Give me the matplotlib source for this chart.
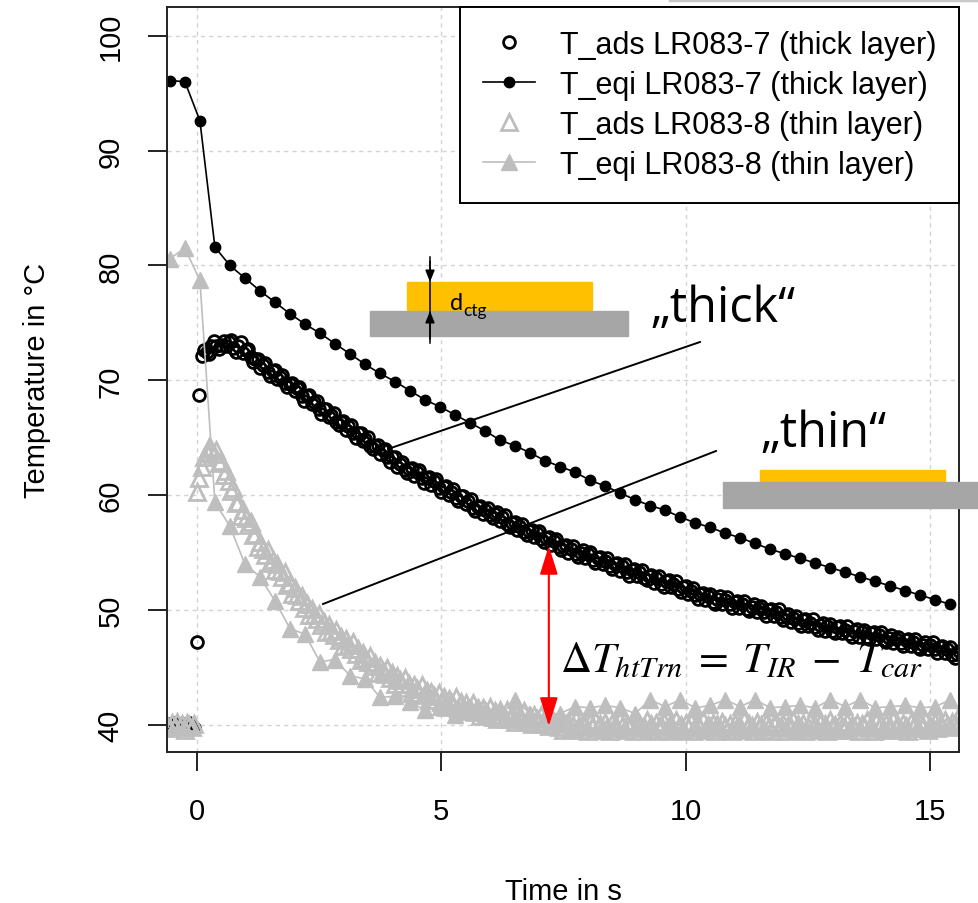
import numpy as np
import matplotlib
matplotlib.use('Agg')
import matplotlib.pyplot as plt
from matplotlib.lines import Line2D
from matplotlib.patches import Rectangle, FancyArrowPatch

plt.rcParams['font.family'] = ['Liberation Sans', 'DejaVu Sans']
plt.rcParams['mathtext.fontset'] = 'stix'

# adsorber temperatures (IR camera), one value every 0.05 s from -0.6 s
ads_thick = [
    40.1, 39.8, 40.0, 40.2, 39.9, 39.7, 40.1, 40.0, 39.8, 40.2,
    39.9, 39.7, 47.2, 68.7, 72.1, 72.6,
    72.5, 72.3, 73.0, 73.4, 73.0, 72.7, 73.1, 73.4, 73.0, 73.3,
    73.5, 72.8, 72.5, 73.0, 73.3, 72.4, 72.6, 72.7, 72.0, 71.6,
    71.9, 71.9, 71.1, 71.3, 71.5, 70.7, 70.4, 70.8, 70.9, 70.1,
    70.3, 70.5, 69.8, 69.4, 69.7, 69.8, 69.1, 69.3, 69.4, 68.6,
    68.2, 68.6, 68.7, 67.9, 68.1, 68.2, 67.5, 67.1, 67.5, 67.5,
    66.8, 67.0, 67.2, 66.4, 66.1, 66.4, 66.5, 65.7, 66.0, 66.1,
    65.4, 65.0, 65.4, 65.4, 64.7, 64.9, 65.1, 64.3, 64.0, 64.3,
    64.4, 63.6, 63.9, 64.0, 63.3, 62.9, 63.3, 63.3, 62.5, 62.7,
    62.9, 62.2, 61.9, 62.3, 62.4, 61.7, 62.0, 62.2, 61.5, 61.1,
    61.5, 61.6, 60.9, 61.2, 61.4, 60.6, 60.3, 60.7, 60.8, 60.0,
    60.3, 60.5, 59.8, 59.5, 59.9, 59.9, 59.2, 59.5, 59.7, 58.9,
    58.6, 59.0, 59.1, 58.4, 58.7, 58.9, 58.3, 58.0, 58.4, 58.5,
    57.8, 58.1, 58.3, 57.5, 57.2, 57.6, 57.7, 57.0, 57.3, 57.5,
    56.8, 56.5, 56.9, 57.0, 56.4, 56.7, 56.9, 56.2, 55.9, 56.3,
    56.4, 55.7, 56.0, 56.2, 55.5, 55.2, 55.6, 55.7, 55.0, 55.3,
    55.6, 54.9, 54.6, 55.0, 55.2, 54.5, 54.9, 55.1, 54.4, 54.1,
    54.5, 54.6, 54.0, 54.3, 54.5, 53.8, 53.6, 54.0, 54.1, 53.4,
    53.8, 54.0, 53.3, 53.0, 53.5, 53.6, 53.0, 53.3, 53.5, 52.8,
    52.6, 53.0, 53.1, 52.4, 52.8, 53.0, 52.3, 52.0, 52.5, 52.6,
    52.0, 52.3, 52.5, 51.8, 51.6, 52.0, 52.1, 51.4, 51.7, 51.9,
    51.3, 51.0, 51.4, 51.5, 50.9, 51.2, 51.4, 50.7, 50.5, 51.0,
    51.2, 50.5, 50.9, 51.1, 50.5, 50.2, 50.7, 50.8, 50.2, 50.5,
    50.8, 50.1, 49.9, 50.3, 50.5, 49.8, 50.2, 50.4, 49.8, 49.5,
    50.0, 50.1, 49.5, 49.8, 50.1, 49.4, 49.1, 49.5, 49.7, 49.0,
    49.3, 49.5, 48.9, 48.6, 49.1, 49.2, 48.6, 48.9, 49.2, 48.5,
    48.3, 48.7, 48.9, 48.2, 48.6, 48.8, 48.2, 48.0, 48.5, 48.6,
    48.0, 48.3, 48.6, 47.9, 47.7, 48.2, 48.4, 47.7, 48.1, 48.3,
    47.7, 47.5, 48.0, 48.1, 47.5, 47.8, 48.1, 47.4, 47.2, 47.6,
    47.8, 47.1, 47.5, 47.7, 47.1, 46.9, 47.4, 47.5, 46.9, 47.2,
    47.5, 46.8, 46.6, 47.0, 47.2, 46.6, 47.0, 47.2, 46.6, 46.3,
    46.8, 46.9, 46.3, 46.6, 46.8, 46.1, 45.8, 46.2, 46.4]

ads_thin = [
    40.0, 39.7, 40.2, 39.9, 40.3, 39.8, 40.1, 39.6, 40.2, 40.0,
    39.8, 40.1, 60.3, 61.5, 62.5, 63.3, 63.8, 64.2, 64.0, 63.6,
    63.9, 62.8, 63.0, 61.8, 62.1, 61.2, 60.4, 60.6, 59.3, 59.4,
    58.2, 58.7, 58.0, 57.4, 57.7, 56.5, 56.6, 55.5, 55.9, 55.3,
    54.8, 55.2, 54.1, 54.4, 53.5, 54.0, 53.4, 52.9, 53.3, 52.2,
    52.4, 51.4, 51.9, 51.3, 50.8, 51.2, 50.2, 50.5, 49.6, 50.1,
    49.6, 49.2, 49.7, 48.7, 49.0, 48.1, 48.7, 48.2, 47.8, 48.3,
    47.4, 47.7, 46.9, 47.5, 47.0, 46.6, 47.2, 46.2, 46.6, 45.7,
    46.3, 45.8, 45.5, 46.0, 45.1, 45.4, 44.5, 45.1, 44.7, 44.4,
    45.0, 44.1, 44.5, 43.6, 44.3, 43.9, 43.6, 44.1, 43.2, 43.6,
    42.8, 43.5, 43.1, 42.8, 43.5, 42.6, 43.0, 42.2, 42.9, 42.5,
    42.2, 42.8, 42.0, 42.4, 41.6, 42.3, 42.0, 41.7, 42.4, 41.5,
    42.0, 41.2, 41.9, 41.5, 41.3, 41.9, 41.1, 41.5, 40.8, 41.5,
    41.2, 40.9, 41.6, 40.7, 41.2, 40.5, 41.3, 40.9, 40.7, 41.3,
    40.5, 41.0, 40.3, 41.0, 40.7, 40.5, 41.2, 40.3, 40.8, 40.1,
    40.9, 40.5, 40.3, 40.9, 40.1, 40.6, 39.9, 40.6, 40.3,
    40.2, 39.8, 40.4, 39.6, 40.1, 40.3, 39.7, 40.0, 40.5, 39.8,
    39.6, 40.2, 40.0, 39.5, 40.3, 39.9, 40.4, 39.7, 40.1, 39.6,
    40.3, 39.8, 39.5, 40.2, 40.0, 39.7, 40.4, 39.9, 39.6, 40.1,
    39.8, 40.3, 39.5, 40.0, 40.2, 39.7, 39.9, 40.4, 39.6, 40.1,
    39.5, 40.2, 39.8, 40.0, 40.3, 39.6, 39.9, 40.1, 39.5, 40.4,
    39.7, 40.0, 39.6, 40.2, 39.8, 40.3, 39.5, 39.9, 40.1, 39.7,
    40.4, 39.6, 40.0, 39.8, 40.2, 39.5, 40.1, 39.7, 40.3, 39.9,
    39.6, 40.1, 39.5, 40.2, 39.8, 40.0, 39.6, 40.4, 39.7, 40.1,
    39.9, 39.5, 40.3, 39.8, 40.0, 39.6, 40.2, 39.9, 39.5, 40.1,
    40.3, 39.7, 39.9, 40.2, 39.5, 40.0, 39.8, 40.4, 39.6, 40.1,
    39.7, 40.2, 39.5, 39.9, 40.3, 39.8, 40.0, 39.6, 40.2, 39.7,
    40.1, 39.5, 40.4, 39.8, 40.0, 39.6, 40.2, 39.9, 39.7, 40.3,
    39.6, 40.0, 39.8, 40.2, 39.5, 40.1, 39.9, 40.4, 39.7, 40.0,
    39.5, 40.3, 39.8, 40.1, 39.6, 40.2, 39.9, 39.7, 40.4, 39.8,
    40.0, 39.6, 40.2, 39.9, 39.5, 40.3, 39.8, 40.1, 39.7, 40.2,
    39.9, 40.4, 39.6, 40.0, 39.8, 40.3, 39.7, 40.1, 39.9, 40.4,
    40.0, 39.8, 40.3, 40.1, 40.5, 40.2]

# equilibrium temperatures, one point every ~0.31 s
eqi_thick = [96.1, 96.0, 92.6, 81.6, 80.0, 78.9, 77.8, 76.8, 75.8, 74.9,
             74.1, 73.2, 72.3, 71.4, 70.6, 69.9, 69.1, 68.3, 67.7, 67.0,
             66.3, 65.6, 64.8, 64.3, 63.7, 63.0, 62.5, 62.0, 61.3, 60.8,
             60.2, 59.6, 59.1, 58.7, 58.1, 57.6, 57.2, 56.7, 56.3, 55.8,
             55.3, 54.9, 54.5, 54.1, 53.7, 53.3, 52.9, 52.5, 52.1, 51.7,
             51.3, 50.9, 50.5]

eqi_thin = [80.6, 81.5, 78.7, 59.4, 57.3, 54.0, 52.9, 50.8, 48.4, 47.9,
            45.5, 45.7, 44.3, 44.0, 42.4, 42.5, 42.0, 41.3, 41.6, 40.9,
            41.4, 41.0, 41.2, 42.2, 41.0, 40.8, 41.0, 41.6, 41.5, 41.7,
            41.5, 41.0, 42.2, 41.6, 42.2, 41.5, 41.7, 42.2, 41.6, 42.2,
            41.5, 41.6, 41.7, 41.5, 42.2, 41.6, 42.2, 41.5, 41.6, 41.7,
            41.5, 41.6, 42.2]

labels = ['T_ads LR083-7 (thick layer)', 'T_eqi LR083-7 (thick layer)',
          'T_ads LR083-8 (thin layer)', 'T_eqi LR083-8 (thin layer)']

t_ads_thick = np.round(-0.6 + 0.05 * np.arange(len(ads_thick)), 3)
t_ads_thin = np.round(-0.6 + 0.05 * np.arange(len(ads_thin)), 3)
t_eqi = np.round(0.37 + 0.307 * np.arange(-3, len(eqi_thick) - 3), 3)

GREY = '#BEBEBE'
W, H = 979, 904


def fx(x):
    return x / W


def fy(y):
    return 1 - y / H


fig = plt.figure(figsize=(W / 100, H / 100), dpi=100)
ax = fig.add_axes([fx(167), fy(753), (959 - 167) / W, (753 - 8) / H])

h1, = ax.plot(t_ads_thick, ads_thick, ls='none', marker='o', ms=8.5,
              mfc='none', mec='black', mew=2.0, label=labels[0])
h2, = ax.plot(t_eqi, eqi_thick, '-', color='black', lw=1.2, marker='o',
              ms=7.5, mfc='black', mec='black', label=labels[1])
h3, = ax.plot(t_ads_thin, ads_thin, ls='none', marker='^', ms=11.5,
              mfc='none', mec=GREY, mew=2.0, label=labels[2])
h4, = ax.plot(t_eqi, eqi_thin, '-', color=GREY, lw=1.2, marker='^', ms=11,
              mfc=GREY, mec=GREY, label=labels[3])

ax.set_xlim(-0.61, 15.59)
ax.set_ylim(37.65, 102.5)
ax.set_xticks([0, 5, 10, 15])
ax.set_yticks([40, 50, 60, 70, 80, 90, 100])
ax.set_axisbelow(True)
ax.grid(color='#D3D3D3', ls=(0, (3, 3)), lw=1.0)
for s in ax.spines.values():
    s.set_linewidth(1.4)
    s.set_color('#222222')
ax.tick_params(direction='out', length=13.5, width=1.4, color='#222222',
               labelsize=21)
ax.tick_params(axis='x', pad=19)
ax.tick_params(axis='y', pad=17)
for lab in ax.get_yticklabels():
    lab.set_rotation(90)
    lab.set_va('center')
ax.set_xlabel('Time in s', fontsize=21, labelpad=37)
ax.set_ylabel('Temperature in °C', fontsize=21, labelpad=33)

leg = ax.legend(handles=[h1, h2, h3, h4], loc='upper right',
                bbox_to_anchor=(1, 1), borderaxespad=0, fontsize=22,
                frameon=True, fancybox=False, edgecolor='black',
                framealpha=1, labelspacing=0.33, handlelength=1.7,
                handletextpad=0.8, borderpad=0.75)
leg.get_frame().set_linewidth(1.4)

# red delta-T arrow
ax.annotate('', xy=(7.2, 39.9), xytext=(7.2, 55.6),
            arrowprops=dict(arrowstyle='<|-|>,head_length=0.8,head_width=0.25',
                            color='red', lw=1.5, mutation_scale=22,
                            shrinkA=0, shrinkB=0))

# overlay sketches
tr = fig.transFigure
fig.add_artist(Line2D([fx(670), 1], [fy(1), fy(1)], color='#C8C8C8', lw=2.5))
fig.add_artist(Rectangle((fx(407), fy(312)), (592 - 407) / W, (312 - 283) / H,
                         color='#FFC000', transform=tr))
fig.add_artist(Rectangle((fx(370), fy(337)), (628 - 370) / W, (337 - 312) / H,
                         color='#A6A6A6', transform=tr))
fig.add_artist(Rectangle((fx(760), fy(483)), (945 - 760) / W, (483 - 471) / H,
                         color='#FFC000', transform=tr))
fig.add_artist(Rectangle((fx(723), fy(509)), (979 - 723) / W, (509 - 483) / H,
                         color='#A6A6A6', transform=tr))
fig.add_artist(Line2D([fx(430), fx(430)], [fy(258), fy(344)], color='black',
                      lw=1.1))
for a, b in [((430, 262), (430, 283)), ((430, 340), (430, 312))]:
    fig.add_artist(FancyArrowPatch((fx(a[0]), fy(a[1])), (fx(b[0]), fy(b[1])),
                                   transform=tr, color='black', lw=1.1,
                                   arrowstyle='-|>,head_length=0.5,head_width=0.2',
                                   mutation_scale=14, shrinkA=0, shrinkB=0))
fig.text(fx(450), fy(310), 'd', fontsize=17, family=['Lato', 'DejaVu Sans'],
         va='baseline')
fig.text(fx(463), fy(316), 'ctg', fontsize=12.5, family=['Lato', 'DejaVu Sans'],
         va='baseline')

# leader lines
fig.add_artist(Line2D([fx(700), fx(388)], [fy(343), fy(450)], color='black',
                      lw=1.4))
fig.add_artist(Line2D([fx(716), fx(323)], [fy(452), fy(605)], color='black',
                      lw=1.4))
fig.text(fx(650), fy(322), '„thick“', fontsize=35,
         family=['Open Sans', 'DejaVu Sans'], va='baseline')
fig.text(fx(760), fy(447), '„thin“', fontsize=35,
         family=['Open Sans', 'DejaVu Sans'], va='baseline')

fig.text(fx(560), fy(672), r'$\Delta T_{htTrn}\;=\;T_{IR}\;-\;T_{car}$',
         fontsize=31, va='baseline')

fig.savefig('out.png', dpi=100)
